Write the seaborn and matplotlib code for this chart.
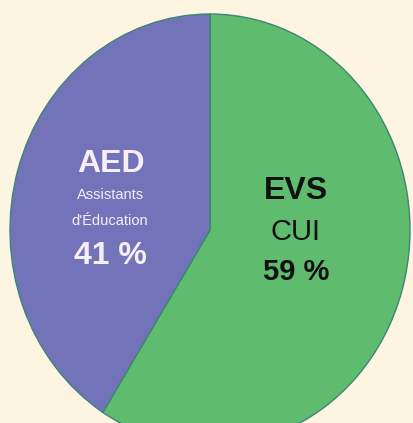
import matplotlib
matplotlib.use("Agg")
import matplotlib.pyplot as plt
import seaborn as sns

sns.set_style("white")
plt.rcParams['font.family'] = ['Liberation Sans', 'DejaVu Sans']

labels = ['EVS', 'AED']
shares = [59, 41]
colors = ['#5fbb6e', '#7373b9']
bg = '#fdf4e2'

fig = plt.figure(figsize=(4.14, 4.23), dpi=100)
fig.patch.set_facecolor(bg)
ax = fig.add_axes([0, 0, 1, 1])
ax.set_facecolor(bg)

ax.pie(shares, colors=colors, startangle=90, counterclock=False,
       wedgeprops=dict(edgecolor='#3d8576', linewidth=1.0))

# slightly taller than wide, as in the picture
ax.set_aspect('auto')
ax.set_xlim(-210 / 200, 204 / 200)
ax.set_ylim(-193 / 216, 230 / 216)
ax.axis('off')


def px(x, y):
    return (x - 210) / 200, (230 - y) / 216


light = '#f7eef7'
ax.text(*px(111, 164), 'AED', ha='center', va='center', color=light,
        fontsize=23, fontweight='bold')
ax.text(*px(111, 195), 'Assistants', ha='center', va='center', color=light,
        fontsize=10.5)
ax.text(*px(110, 221), "d'Éducation", ha='center', va='center', color=light,
        fontsize=10.5)
ax.text(*px(110, 256), '41 %', ha='center', va='center', color=light,
        fontsize=23, fontweight='bold')

ax.text(*px(296, 191), 'EVS', ha='center', va='center', color='#111111',
        fontsize=23, fontweight='bold')
ax.text(*px(296, 232), 'CUI', ha='center', va='center', color='#111111',
        fontsize=21)
ax.text(*px(296, 272), '59 %', ha='center', va='center', color='#111111',
        fontsize=21, fontweight='bold')

fig.savefig('out.png', dpi=100, facecolor=bg)
